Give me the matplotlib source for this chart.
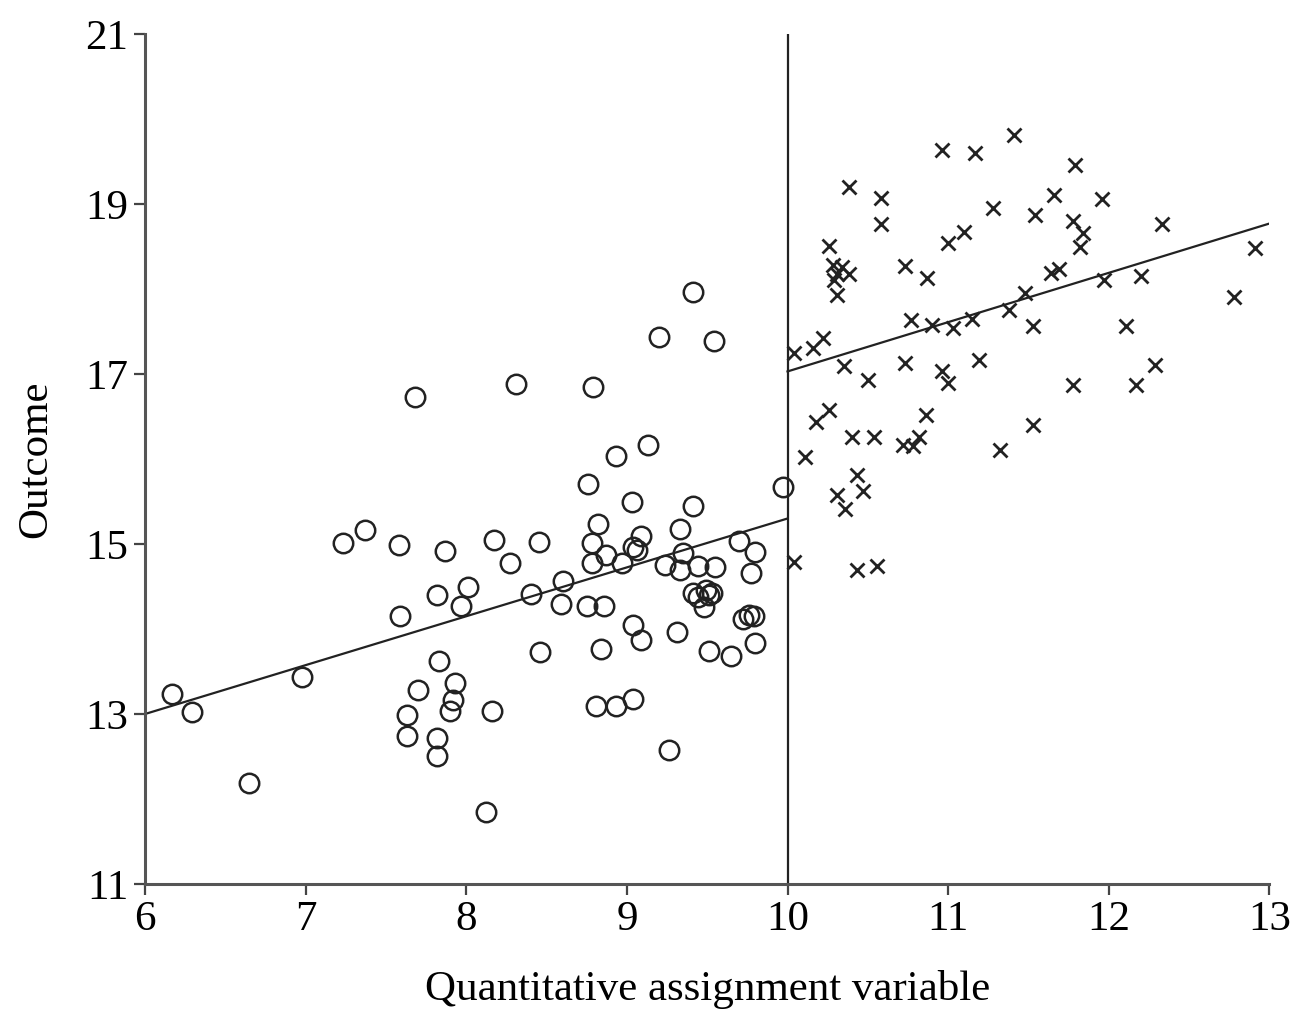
import numpy as np
import matplotlib.pyplot as plt

# untreated group (circles)
circ_x = [7.68, 7.23, 7.37, 7.58, 7.87, 8.01, 7.97, 7.82, 7.59, 7.83, 7.70, 7.93, 7.92, 7.90,
          7.63, 7.63, 7.82, 7.82, 6.98, 6.17, 6.29, 6.65,
          9.41, 9.20, 9.54, 8.31, 8.79, 9.13, 8.93, 8.76, 9.03, 9.41, 9.97, 8.82, 9.33, 8.17,
          8.45, 8.27, 8.78, 8.87, 8.78, 8.97, 9.09, 9.04, 9.06, 9.24, 9.35, 9.33, 9.44, 9.55,
          9.70, 9.80, 9.77, 8.60,
          8.40, 8.59, 8.75, 8.86, 9.41, 9.49, 9.53, 9.48, 9.44, 9.51, 9.72, 9.76, 9.79,
          9.80, 9.51, 9.65, 9.31, 9.04, 9.09, 8.84, 8.46, 8.81, 8.93, 9.04, 8.16, 9.26, 8.12]
circ_y = [16.73, 15.01, 15.17, 14.99, 14.92, 14.49, 14.27, 14.40, 14.15, 13.62, 13.28, 13.36, 13.17, 13.04,
          12.99, 12.74, 12.72, 12.51, 13.44, 13.23, 13.02, 12.19,
          17.97, 17.43, 17.39, 16.88, 16.85, 16.16, 16.03, 15.71, 15.49, 15.45, 15.67, 15.24, 15.18, 15.05,
          15.02, 14.78, 15.01, 14.87, 14.78, 14.78, 15.09, 14.97, 14.93, 14.75, 14.89, 14.69, 14.74, 14.73,
          15.03, 14.91, 14.66, 14.56,
          14.41, 14.30, 14.27, 14.27, 14.42, 14.46, 14.42, 14.26, 14.38, 14.40, 14.12, 14.17, 14.15,
          13.83, 13.74, 13.68, 13.96, 14.05, 13.87, 13.77, 13.73, 13.10, 13.10, 13.18, 13.04, 12.58, 11.85]

# treated group (crosses)
cross_x = [11.41, 10.96, 11.17, 11.79, 10.38, 10.58, 10.58, 11.66, 11.96, 11.28, 11.54, 11.78,
           11.84, 11.82, 12.33, 12.91, 11.10, 11.00, 10.26,
           10.28, 10.31, 10.38, 10.29, 10.34,
           10.31, 10.73, 10.87, 11.64, 11.69, 11.97, 12.20, 12.78, 11.48, 11.38, 11.15, 11.03,
           10.90, 10.77, 11.53, 12.11, 10.22, 10.16, 10.04,
           10.35, 10.50, 10.73, 10.96, 11.00, 11.19, 11.78, 12.17, 12.29, 10.26, 10.18, 10.86,
           10.40, 10.54, 10.72, 10.78, 10.82, 11.32, 11.53, 10.11, 10.43, 10.47, 10.31, 10.36,
           10.04, 10.43, 10.56]
cross_y = [19.81, 19.64, 19.60, 19.46, 19.20, 19.07, 18.76, 19.11, 19.06, 18.95, 18.87, 18.80,
           18.66, 18.49, 18.77, 18.48, 18.67, 18.54, 18.51,
           18.28, 18.18, 18.18, 18.10, 18.26,
           17.93, 18.27, 18.13, 18.19, 18.24, 18.11, 18.15, 17.91, 17.95, 17.75, 17.65, 17.54,
           17.58, 17.64, 17.56, 17.56, 17.42, 17.31, 17.25,
           17.09, 16.93, 17.13, 17.03, 16.89, 17.17, 16.87, 16.87, 17.11, 16.58, 16.44, 16.52,
           16.26, 16.26, 16.16, 16.15, 16.26, 16.11, 16.40, 16.02, 15.81, 15.62, 15.58, 15.41,
           14.79, 14.69, 14.74]

# fitted lines either side of the cutoff
cutoff = 10
left_fit = ([6, 10], [13.0, 15.3])
right_fit = ([10, 13], [17.03, 18.77])

plt.rcParams['font.family'] = ['Liberation Serif', 'DejaVu Serif']

fig = plt.figure(figsize=(12.98, 10.11), dpi=100)
ax = fig.add_axes([0.1117, 0.1256, 0.8663, 0.8408])

ax.plot(circ_x, circ_y, 'o', ms=14, mfc='none', mec='#222222', mew=1.8, clip_on=False)
ax.plot(cross_x, cross_y, 'x', ms=10, mec='#222222', mew=2.0)
ax.plot(*left_fit, color='#222222', lw=1.6)
ax.plot(*right_fit, color='#222222', lw=1.6)
ax.plot([cutoff, cutoff], [11, 21], color='#222222', lw=1.6)

ax.set_xlim(6, 13)
ax.set_ylim(11, 21)
ax.set_xticks(range(6, 14))
ax.set_yticks(range(11, 22, 2))
ax.spines['top'].set_visible(False)
ax.spines['right'].set_visible(False)
for s in ['left', 'bottom']:
    ax.spines[s].set_linewidth(2.2)
    ax.spines[s].set_color('#555555')
ax.tick_params(length=8, width=1.6, color='#444444', labelsize=31, pad=4)
ax.set_xlabel("Quantitative assignment variable", fontsize=31, labelpad=22)
ax.set_ylabel("Outcome", fontsize=31, labelpad=22)

fig.savefig("out.png", dpi=100)
